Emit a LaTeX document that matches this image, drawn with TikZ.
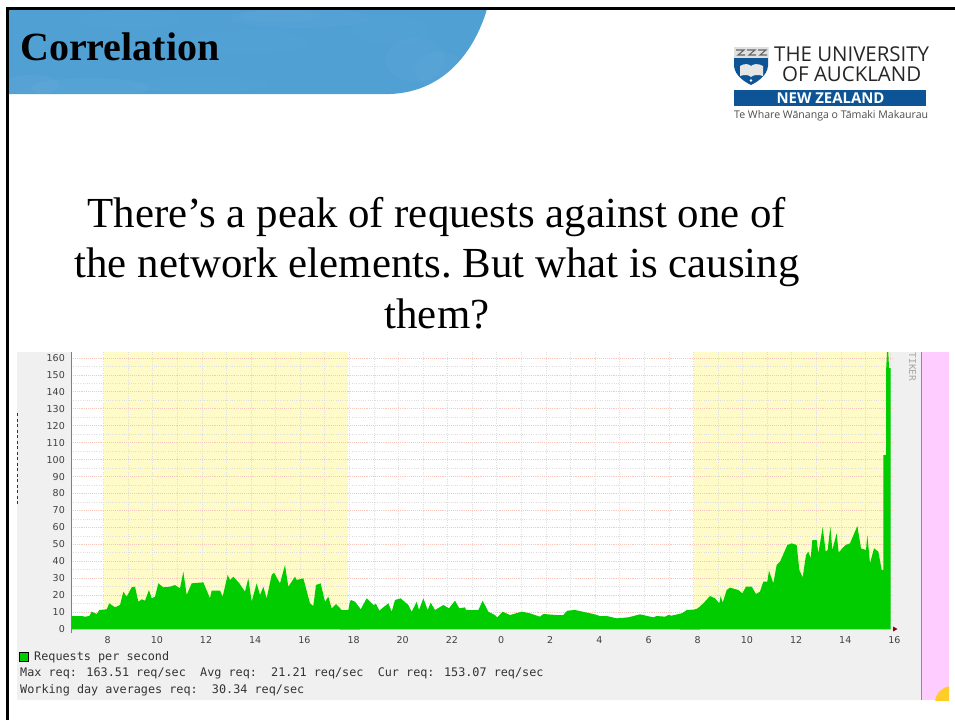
\documentclass[tikz,border=0pt]{standalone}
\usepackage{fontspec}
\usepackage{graphicx}
\setmainfont{Liberation Serif}
\newfontfamily\logofont{Open Sans}
\newfontfamily\chartfont{DejaVu Sans}
\newfontfamily\chartmono{DejaVu Sans Mono}
\definecolor{bandblue}{RGB}{80,160,212}
\definecolor{bandpale}{RGB}{125,180,222}
\definecolor{logoblue}{RGB}{12,84,150}
\definecolor{panelgray}{RGB}{240,240,240}
\definecolor{dayyellow}{RGB}{255,251,200}
\definecolor{reqgreen}{RGB}{0,204,0}
\definecolor{gridred}{RGB}{247,200,190}
\definecolor{gridgray}{RGB}{222,222,222}
\definecolor{pinkstrip}{RGB}{255,204,255}
\definecolor{sunorange}{RGB}{255,204,40}
\tikzset{
  bodytext/.style={font=\frenchspacing\fontsize{42.85}{50.5}\selectfont,align=center,inner sep=0pt},
  ylab/.style={font=\chartfont\fontsize{9.5}{10}\selectfont,text=black!75,anchor=east,inner sep=0pt},
  xlab/.style={font=\chartfont\fontsize{9.5}{10}\selectfont,text=black!75,anchor=center,inner sep=0pt},
  monolab/.style={font=\chartmono\fontsize{11.8}{12}\selectfont,text=black!80,anchor=west,inner sep=0pt},
  gridmajor/.style={gridred,line width=.8pt,dash pattern=on .9pt off 1pt},
  gridminor/.style={gridgray,line width=.6pt,dash pattern=on .9pt off 1.4pt},
  greenfill/.style={fill=reqgreen,draw=none},
}
\begin{document}
\begin{tikzpicture}[x=1pt,y=-1pt]
\useasboundingbox (0,0) rectangle (955,720);
\fill[white] (0,0) rectangle (955,720);

% blue title band
\begin{scope}
\clip (9,9) -- (487,9) .. controls (475,50) and (445,92) .. (390,94) -- (9,94) -- cycle;
\fill[bandblue] (0,0) rectangle (500,100);
\foreach \cx/\cy/\rx/\ry/\op in {300/18/70/10/.10, 280/16/40/6/.08, 250/42/60/12/.06, 90/88/60/10/.12, 30/85/30/10/.14, 415/60/30/22/.10, 440/70/25/18/.10, 200/85/70/8/.06, 390/30/40/14/.05, 130/20/50/10/.06}{
  \fill[bandpale,opacity=\op] (\cx,\cy) ellipse ({\rx} and {\ry});
}
\end{scope}
\node[anchor=base west,inner sep=0pt,font=\bfseries\fontsize{40}{44}\selectfont] (title) at (20,60) {Correlation};

% frame
\draw[black,line width=3pt] (7.5,720) -- (7.5,8.5) -- (955,8.5);

% logo
\path[fill=logoblue] (734,47) -- (768,47) -- (768,66) .. controls (767,76) and (757,82) .. (751,85) .. controls (745,82) and (735,76) .. (734,66) -- cycle;
\fill[black!12] (734,47) rectangle (768,58);
\foreach \lx in {736,747,758}{
  \draw[black!60,line width=1.1pt] (\lx,50) -- ++(8,0) -- ++(-6,5) -- ++(7,0);
}
\fill[white!90!black] (740,66) .. controls (745,63) and (749,64) .. (751,66) .. controls (753,64) and (758,63) .. (763,66) -- (763,76) .. controls (758,74) and (753,75) .. (751,77) .. controls (749,75) and (745,74) .. (740,76) -- cycle;
\fill[white] (751,80.5) circle (1.3);
\node[anchor=west,inner sep=0pt,text=black!85] (logoa) at (774,54) {\resizebox{155pt}{!}{\logofont THE UNIVERSITY}};
\node[anchor=west,inner sep=0pt,text=black!85] (logob) at (782,74) {\resizebox{139pt}{!}{\logofont OF AUCKLAND}};
\node[fill=logoblue,minimum width=192pt,minimum height=16pt,inner sep=0pt,anchor=north west] (logoband) at (734,90) {};
\node[inner sep=0pt,text=white] (logoc) at (830.5,98) {\resizebox{108pt}{!}{\logofont\bfseries NEW ZEALAND}};
\node[anchor=west,inner sep=0pt,text=black!70] (logod) at (734,115.5) {\resizebox{194pt}{!}{\logofont Te Whare Wānanga o Tāmaki Makaurau}};

% body text
\node[bodytext] (body) at (437,263) {There’s a peak of requests against one of\\the network elements. But what is causing\\them?};

% chart panel
\fill[panelgray] (17,352) rectangle (921,700);
\fill[white] (71,352) rectangle (888,629);
\fill[dayyellow] (103.5,352) rectangle (348,629);
\fill[dayyellow] (694,352) rectangle (890,629);
\fill[pinkstrip] (922,352) rectangle (949,700);
\begin{scope}
\clip (922,352) rectangle (949,700);
\fill[sunorange] (952,703) circle (17);
\end{scope}
\draw[black!45,line width=1pt] (921.5,352) -- (921.5,700);

% grid
\foreach \k in {0,1,...,32}{
  \pgfmathsetmacro{\gx}{103.5+24.58*\k}
  \draw[gridminor] (\gx,352) -- (\gx,629);
}
\foreach \k in {0,1,...,15}{
  \pgfmathsetmacro{\gy}{629-1.694*(\k*10+5)}
  \draw[gridminor] (71,\gy) -- (893,\gy);
}
\foreach \k in {1,...,16}{
  \pgfmathsetmacro{\gy}{629-16.94*\k}
  \draw[gridmajor] (71,\gy) -- (893,\gy);
}

% requests area, traced in three stretches
\begin{scope}[shift={(0,530)},x=0.33333pt,y=0.33333pt,yscale=-1]
\path[greenfill] (215,298) -- (215,258) -- (245,258) -- (255,260) -- (268,258) -- (275,245) -- (290,252) -- (298,240) -- (320,238) -- (328,220) -- (345,232) -- (360,225) -- (370,185) -- (380,200) -- (395,172) -- (405,170) -- (415,215) -- (425,208) -- (435,212) -- (447,180) -- (455,205) -- (465,200) -- (475,160) -- (490,172) -- (510,170) -- (525,165) -- (540,175) -- (550,125) -- (560,195) -- (575,160) -- (610,157) -- (630,205) -- (635,182) -- (660,182) -- (668,200) -- (683,135) -- (690,150) -- (700,140) -- (718,160) -- (735,185) -- (745,145) -- (755,215) -- (770,160) -- (780,195) -- (790,170) -- (800,205) -- (815,135) -- (822,128) -- (840,160) -- (855,105) -- (865,170) -- (885,140) -- (890,150) -- (910,145) -- (930,220) -- (940,228) -- (948,165) -- (962,160) -- (975,215) -- (985,200) -- (995,235) -- (1008,222) -- (1025,240) -- (1048,240) -- (1053,210) -- (1065,215) -- (1080,235) -- (1080,298) -- cycle;
\end{scope}
\begin{scope}[shift={(340,530)},x=0.33333pt,y=0.33333pt,yscale=-1]
\path[greenfill] (0,298) -- (0,240) -- (25,240) -- (30,212) -- (45,218) -- (62,238) -- (80,205) -- (100,225) -- (108,222) -- (118,242) -- (130,232) -- (145,220) -- (155,245) -- (165,210) -- (182,205) -- (205,225) -- (215,245) -- (230,215) -- (237,240) -- (250,205) -- (263,240) -- (272,218) -- (285,240) -- (310,225) -- (327,235) -- (345,212) -- (358,235) -- (375,232) -- (378,240) -- (415,240) -- (428,212) -- (445,245) -- (465,255) -- (472,262) -- (488,245) -- (510,255) -- (545,245) -- (570,250) -- (600,260) -- (610,252) -- (650,255) -- (670,255) -- (682,242) -- (705,240) -- (760,252) -- (780,258) -- (800,258) -- (830,265) -- (865,262) -- (900,253) -- (940,262) -- (950,258) -- (975,260) -- (985,255) -- (995,257) -- (1025,250) -- (1045,240) -- (1062,240) -- (1080,232) -- (1080,298) -- cycle;
\end{scope}
\begin{scope}[shift={(680,500)},x=0.33333pt,y=0.33333pt,yscale=-1]
\path[greenfill] (0,388) -- (0,345) -- (20,330) -- (50,328) -- (70,310) -- (90,288) -- (105,295) -- (118,310) -- (122,288) -- (128,308) -- (140,270) -- (150,263) -- (175,270) -- (187,280) -- (198,260) -- (215,260) -- (228,282) -- (240,275) -- (250,245) -- (262,245) -- (267,212) -- (280,250) -- (290,195) -- (300,185) -- (322,135) -- (335,130) -- (350,135) -- (358,210) -- (368,232) -- (378,165) -- (385,155) -- (392,175) -- (397,120) -- (410,120) -- (415,160) -- (428,82) -- (437,155) -- (443,150) -- (451,80) -- (457,150) -- (470,100) -- (476,158) -- (487,145) -- (497,135) -- (510,130) -- (532,78) -- (543,145) -- (558,150) -- (562,105) -- (570,190) -- (582,145) -- (595,155) -- (605,210) -- (612,210) -- (612,388) -- cycle;
\end{scope}
\path[greenfill] (883.3,629.3) -- (883.3,455) -- (886,455) -- (886,372) -- (887,352) -- (888.3,352) -- (889,368) -- (890.7,368) -- (890.7,629.3) -- cycle;

% axes
\draw[black!50,line width=.9pt] (71.5,352) -- (71.5,633);
\fill[red!55!black] (893,626.5) -- (897.5,629) -- (893,631.5) -- cycle;

% axis labels
\foreach \v in {0,10,...,160}{
  \pgfmathsetmacro{\ly}{629-1.694*\v}
  \node[ylab,name=y\v] at (65,\ly) {\v};
}
\foreach \k/\t in {0/8,1/10,2/12,3/14,4/16,5/18,6/20,7/22,8/0,9/2,10/4,11/6,12/8,13/10,14/12,15/14,16/16}{
  \pgfmathsetmacro{\lx}{107.7+49.17*\k}
  \node[xlab,name=x\k] at (\lx,640) {\t};
}
\node[rotate=-90,anchor=west,inner sep=0pt,text=black!35,font=\chartmono\fontsize{9.5}{10}\selectfont] (tiker) at (912.5,352.5) {TIKER};
\draw[black!80,line width=.8pt,dash pattern=on 3pt off 2.5pt] (17.5,413) -- (17.5,505);

% legend
\node[draw=black,fill=reqgreen,line width=.9pt,minimum width=8.5pt,minimum height=9.5pt,inner sep=0pt] (legendbox) at (23.8,656.7) {};
\node[monolab] (leg) at (34,657) {Requests per second};
\node[monolab] (stats) at (20,673.5) {Max req: 163.51 req/sec~~Avg req:~~21.21 req/sec~~Cur req: 153.07 req/sec};
\node[monolab] (avg) at (20,690) {Working day averages req:~~30.34 req/sec};
\end{tikzpicture}
\end{document}
